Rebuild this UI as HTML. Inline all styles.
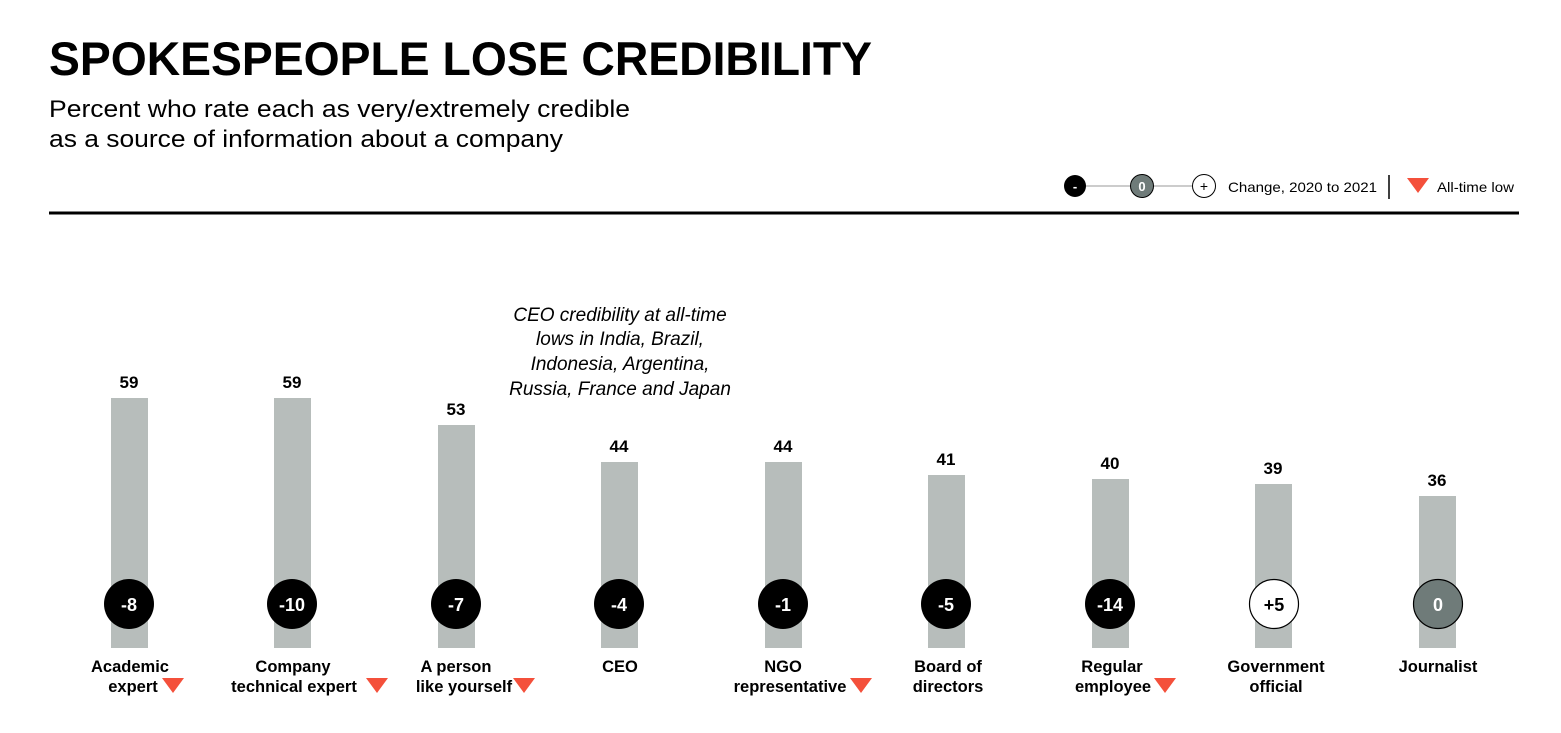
<!DOCTYPE html>
<html><head><meta charset="utf-8"><style>
html,body{margin:0;padding:0;background:#fff;}
svg{display:block;font-family:"Liberation Sans",Arial,sans-serif;}
</style></head><body>
<svg width="1561" height="733" viewBox="0 0 1561 733" xmlns="http://www.w3.org/2000/svg">
<text x="49" y="75" font-size="47" font-weight="bold" textLength="823" lengthAdjust="spacingAndGlyphs">SPOKESPEOPLE LOSE CREDIBILITY</text>
<text x="49" y="117" font-size="24" textLength="581" lengthAdjust="spacingAndGlyphs">Percent who rate each as very/extremely credible</text>
<text x="49" y="147" font-size="24" textLength="514" lengthAdjust="spacingAndGlyphs">as a source of information about a company</text>
<!-- legend -->
<line x1="1075" y1="186" x2="1204" y2="186" stroke="#bbb" stroke-width="1.5"/>
<circle cx="1075" cy="186" r="11" fill="#000"/>
<text x="1075" y="191" font-size="13" font-weight="bold" fill="#fff" text-anchor="middle">-</text>
<circle cx="1142" cy="186" r="11.5" fill="#6f7b79" stroke="#000" stroke-width="1"/>
<text x="1142" y="191" font-size="13" font-weight="bold" fill="#fff" text-anchor="middle">0</text>
<circle cx="1204" cy="186" r="11.5" fill="#fff" stroke="#000" stroke-width="1"/>
<text x="1204" y="191" font-size="14" fill="#000" text-anchor="middle">+</text>
<text x="1228" y="192" font-size="14" textLength="149" lengthAdjust="spacingAndGlyphs">Change, 2020 to 2021</text>
<line x1="1389" y1="175" x2="1389" y2="199" stroke="#000" stroke-width="1.5"/>
<polygon points="1407,178 1429,178 1418,193" fill="#f4503b"/>
<text x="1437" y="192" font-size="14" textLength="77" lengthAdjust="spacingAndGlyphs">All-time low</text>
<rect x="49" y="211.5" width="1470" height="3" fill="#000"/>
<!-- annotation -->
<g font-size="19" font-style="italic" text-anchor="middle">
<text x="620" y="321">CEO credibility at all-time</text>
<text x="620" y="345">lows in India, Brazil,</text>
<text x="620" y="370">Indonesia, Argentina,</text>
<text x="620" y="395">Russia, France and Japan</text>
</g>
<!-- bars -->
<g fill="#b7bdbb">
<rect x="111" y="398" width="37" height="250"/>
<rect x="274" y="398" width="37" height="250"/>
<rect x="438" y="425" width="37" height="223"/>
<rect x="601" y="462" width="37" height="186"/>
<rect x="765" y="462" width="37" height="186"/>
<rect x="928" y="475" width="37" height="173"/>
<rect x="1092" y="479" width="37" height="169"/>
<rect x="1255" y="484" width="37" height="164"/>
<rect x="1419" y="496" width="37" height="152"/>
</g>
<g font-size="17" font-weight="bold" text-anchor="middle">
<text x="129" y="388">59</text>
<text x="292" y="388">59</text>
<text x="456" y="415">53</text>
<text x="619" y="452">44</text>
<text x="783" y="452">44</text>
<text x="946" y="465">41</text>
<text x="1110" y="469">40</text>
<text x="1273" y="474">39</text>
<text x="1437" y="486">36</text>
</g>
<g>
<circle cx="129" cy="604" r="25" fill="#000"/>
<circle cx="292" cy="604" r="25" fill="#000"/>
<circle cx="456" cy="604" r="25" fill="#000"/>
<circle cx="619" cy="604" r="25" fill="#000"/>
<circle cx="783" cy="604" r="25" fill="#000"/>
<circle cx="946" cy="604" r="25" fill="#000"/>
<circle cx="1110" cy="604" r="25" fill="#000"/>
<circle cx="1274" cy="604" r="24.5" fill="#fff" stroke="#000" stroke-width="1.2"/>
<circle cx="1438" cy="604" r="24.5" fill="#6f7b79" stroke="#000" stroke-width="1.2"/>
</g>
<g font-size="18" font-weight="bold" text-anchor="middle" fill="#fff">
<text x="129" y="611">-8</text>
<text x="292" y="611">-10</text>
<text x="456" y="611">-7</text>
<text x="619" y="611">-4</text>
<text x="783" y="611">-1</text>
<text x="946" y="611">-5</text>
<text x="1110" y="611">-14</text>
<text x="1274" y="611" fill="#000">+5</text>
<text x="1438" y="611">0</text>
</g>
<!-- labels -->
<g font-size="16.5" font-weight="bold" text-anchor="middle">
<text x="130" y="672">Academic</text>
<text x="133" y="692">expert</text>
<text x="293" y="672">Company</text>
<text x="294" y="692">technical expert</text>
<text x="456" y="672">A person</text>
<text x="464" y="692">like yourself</text>
<text x="620" y="672">CEO</text>
<text x="783" y="672">NGO</text>
<text x="790" y="692">representative</text>
<text x="948" y="672">Board of</text>
<text x="948" y="692">directors</text>
<text x="1112" y="672">Regular</text>
<text x="1113" y="692">employee</text>
<text x="1276" y="672">Government</text>
<text x="1276" y="692">official</text>
<text x="1438" y="672">Journalist</text>
</g>
<g fill="#f4503b">
<polygon points="162,678 184,678 173,693"/>
<polygon points="366,678 388,678 377,693"/>
<polygon points="513,678 535,678 524,693"/>
<polygon points="850,678 872,678 861,693"/>
<polygon points="1154,678 1176,678 1165,693"/>
</g>
</svg>
</body></html>
